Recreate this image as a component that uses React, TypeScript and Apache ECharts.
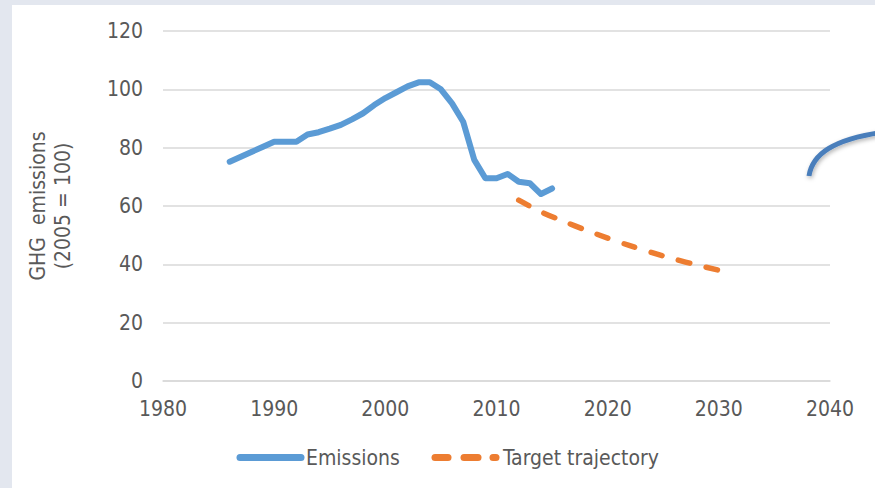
import React, { useEffect, useRef } from "react";
import * as echarts from "echarts";

const emissionYears = [1986, 1987, 1988, 1989, 1990, 1991, 1992, 1993, 1994, 1995, 1996, 1997, 1998, 1999, 2000, 2001, 2002, 2003, 2004, 2005, 2006, 2007, 2008, 2009, 2010, 2011, 2012, 2013, 2014, 2015];
const emissionValues = [75.2, 76.9, 78.6, 80.3, 82, 82, 82, 84.5, 85.3, 86.5, 87.8, 89.7, 91.8, 94.6, 97, 99, 101, 102.4, 102.4, 100, 95.2, 88.9, 75.8, 69.5, 69.5, 71, 68.3, 67.8, 64.1, 66];

const targetYears = [2012, 2014, 2016, 2018, 2020, 2022, 2024, 2026, 2028, 2030];
const targetValues = [62, 58, 54.8, 51.8, 49, 46.4, 44, 41.8, 39.8, 38];

const xTicks = [1980, 1990, 2000, 2010, 2020, 2030, 2040];
const yTicks = [0, 20, 40, 60, 80, 100, 120];
const legendNames = ["Emissions", "Target trajectory"];

const FONT = "'DejaVu Sans Condensed', 'DejaVu Sans', sans-serif";
const TXT = "#595959";
const BLUE = "#5b9bd5";
const ORANGE = "#ed7d31";
const FS = 21;

export default function App() {
  const ref = useRef<HTMLDivElement>(null);
  useEffect(() => {
    if (!ref.current) return;
    const chart = echarts.init(ref.current, null, { renderer: "svg" });
    const emData = emissionYears.map((y, i) => [y, emissionValues[i]]);
    const tgData = targetYears.map((y, i) => [y, targetValues[i]]);
    const legY = 457.5;
    chart.setOption({
      animation: false,
      backgroundColor: "#e3e7ef",
      textStyle: { fontFamily: FONT },
      graphic: [
        {
          type: "rect",
          shape: { x: 12, y: 5, width: 875, height: 490 },
          style: { fill: "#ffffff" },
          z: -10,
        },
        {
          type: "bezierCurve",
          shape: { x1: 809, y1: 176, cpx1: 812, cpy1: 156, cpx2: 830, cpy2: 138, x2: 892, y2: 131 },
          style: {
            stroke: "#4a7ebb",
            lineWidth: 5,
            fill: "none",
            shadowBlur: 4,
            shadowColor: "rgba(0,0,0,0.3)",
            shadowOffsetX: 1,
            shadowOffsetY: 2,
          },
          z: 10,
        },
        // legend (manual)
        {
          type: "line",
          shape: { x1: 240, y1: legY, x2: 301, y2: legY },
          style: { stroke: BLUE, lineWidth: 7, lineCap: "round" },
        },
        {
          type: "text",
          x: 306,
          y: legY,
          style: { text: legendNames[0], fill: TXT, fontSize: FS, fontFamily: FONT, verticalAlign: "middle", align: "left" },
        },
        {
          type: "line",
          shape: { x1: 435, y1: legY, x2: 448, y2: legY },
          style: { stroke: ORANGE, lineWidth: 7, lineCap: "round" },
        },
        {
          type: "line",
          shape: { x1: 464, y1: legY, x2: 478, y2: legY },
          style: { stroke: ORANGE, lineWidth: 7, lineCap: "round" },
        },
        {
          type: "line",
          shape: { x1: 493, y1: legY, x2: 496, y2: legY },
          style: { stroke: ORANGE, lineWidth: 7, lineCap: "round" },
        },
        {
          type: "text",
          x: 503,
          y: legY,
          style: { text: legendNames[1], fill: TXT, fontSize: FS, fontFamily: FONT, verticalAlign: "middle", align: "left" },
        },
      ],
      grid: { left: 163, right: 45, top: 31, bottom: 107, containLabel: false },
      xAxis: {
        type: "value",
        min: xTicks[0],
        max: xTicks[xTicks.length - 1],
        interval: 10,
        axisLine: { show: true, lineStyle: { color: "#d9d9d9", width: 1.5 } },
        axisTick: { show: false },
        splitLine: { show: false },
        axisLabel: { color: TXT, fontSize: FS, fontFamily: FONT, margin: 17, formatter: (v: number) => String(v) },
      },
      yAxis: {
        type: "value",
        min: yTicks[0],
        max: yTicks[yTicks.length - 1],
        interval: 20,
        name: "GHG  emissions\n(2005 = 100)",
        nameLocation: "middle",
        nameGap: 88,
        nameRotate: 90,
        nameTextStyle: { color: TXT, fontSize: FS, fontFamily: FONT, lineHeight: 25 },
        axisLine: { show: false },
        axisTick: { show: false },
        splitLine: { show: true, lineStyle: { color: "#d9d9d9", width: 1.5 } },
        axisLabel: { color: TXT, fontSize: FS, fontFamily: FONT, margin: 20 },
      },
      series: [
        {
          name: legendNames[0],
          type: "line",
          data: emData,
          symbol: "none",
          lineStyle: { color: BLUE, width: 6, cap: "round", join: "round" },
          itemStyle: { color: BLUE },
        },
        {
          name: legendNames[1],
          type: "line",
          data: tgData,
          symbol: "none",
          smooth: 0.3,
          lineStyle: { color: ORANGE, width: 5.5, type: [11.5, 17], cap: "round", join: "round" },
          itemStyle: { color: ORANGE },
        },
      ],
    });
    return () => chart.dispose();
  }, []);
  return (
    <div style={{ position: "fixed", left: 0, top: 0, width: 875, height: 488 }}>
      <div ref={ref} style={{ width: 875, height: 488 }} />
    </div>
  );
}
